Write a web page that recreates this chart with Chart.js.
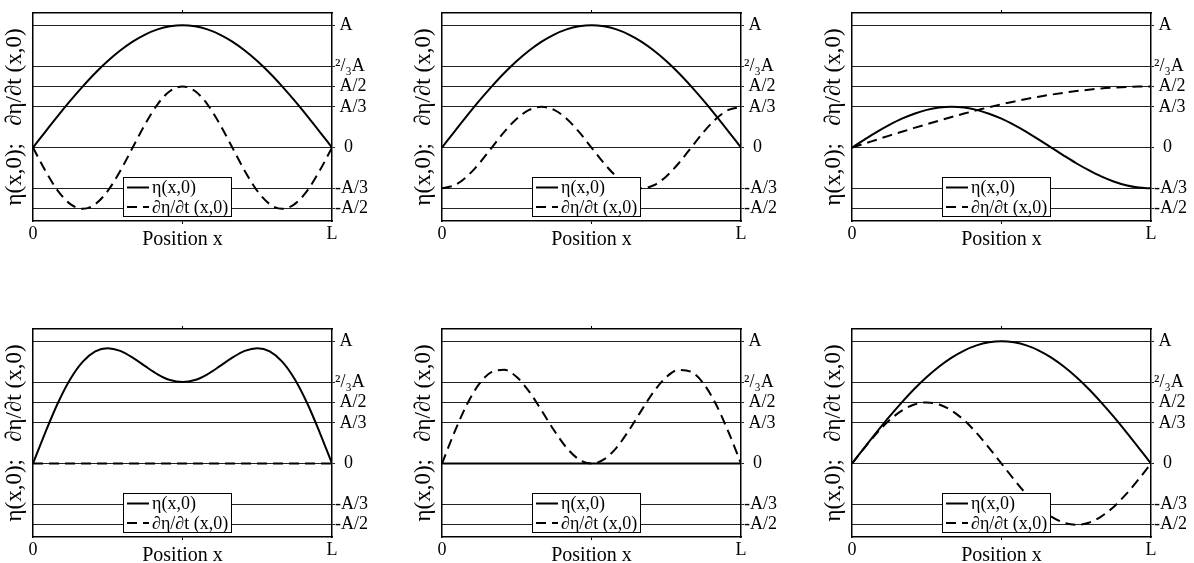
<!DOCTYPE html>
<html lang="en">
<head>
	<meta charset="UTF-8">
	<title>String initial conditions</title>
	<style>
		body {
			margin: 0;
			width: 1194px;
			height: 563px;
			position: relative;
			overflow: hidden;
			background-color: white;
		}

		canvas {
			position: absolute;
		}
	</style>
	<script src="https://cdn.jsdelivr.net/npm/chart.js"></script>
</head>
<body>
<canvas id="p1" width="373" height="242" style="left:1px;top:10px"></canvas>
<canvas id="p2" width="373" height="242" style="left:410px;top:10px"></canvas>
<canvas id="p3" width="373" height="242" style="left:820px;top:10px"></canvas>
<canvas id="p4" width="373" height="242" style="left:1px;top:326px"></canvas>
<canvas id="p5" width="373" height="242" style="left:410px;top:326px"></canvas>
<canvas id="p6" width="373" height="242" style="left:820px;top:326px"></canvas>
<script>
	// positions along the string, x/L
	const xPos = [0, 0.0417, 0.0833, 0.125, 0.1667, 0.2083, 0.25, 0.2917, 0.3333, 0.375, 0.4167, 0.4583,
		0.5, 0.5417, 0.5833, 0.625, 0.6667, 0.7083, 0.75, 0.7917, 0.8333, 0.875, 0.9167, 0.9583, 1];

	// values in units of A
	const eta1 = [0, 0.131, 0.259, 0.383, 0.5, 0.609, 0.707, 0.793, 0.866, 0.924, 0.966, 0.991, 1,
		0.991, 0.966, 0.924, 0.866, 0.793, 0.707, 0.609, 0.5, 0.383, 0.259, 0.131, 0];
	const dEta1 = [0, -0.191, -0.354, -0.462, -0.5, -0.462, -0.354, -0.191, 0, 0.191, 0.354, 0.462, 0.5,
		0.462, 0.354, 0.191, 0, -0.191, -0.354, -0.462, -0.5, -0.462, -0.354, -0.191, 0];

	const eta2 = [0, 0.131, 0.259, 0.383, 0.5, 0.609, 0.707, 0.793, 0.866, 0.924, 0.966, 0.991, 1,
		0.991, 0.966, 0.924, 0.866, 0.793, 0.707, 0.609, 0.5, 0.383, 0.259, 0.131, 0];
	const dEta2 = [-0.333, -0.308, -0.236, -0.128, 0, 0.128, 0.236, 0.308, 0.333, 0.308, 0.236, 0.128, 0,
		-0.128, -0.236, -0.308, -0.333, -0.308, -0.236, -0.128, 0, 0.128, 0.236, 0.308, 0.333];

	const eta3 = [0, 0.065, 0.128, 0.185, 0.236, 0.277, 0.308, 0.327, 0.333, 0.327, 0.308, 0.277, 0.236,
		0.185, 0.128, 0.065, 0, -0.065, -0.128, -0.185, -0.236, -0.277, -0.308, -0.327, -0.333];
	const dEta3 = [0, 0.033, 0.065, 0.098, 0.129, 0.161, 0.191, 0.221, 0.25, 0.278, 0.304, 0.33, 0.354,
		0.376, 0.397, 0.416, 0.433, 0.448, 0.462, 0.473, 0.483, 0.49, 0.496, 0.499, 0.5];

	const eta4 = [0, 0.258, 0.495, 0.691, 0.833, 0.917, 0.943, 0.921, 0.866, 0.796, 0.73, 0.683, 0.667,
		0.683, 0.73, 0.796, 0.866, 0.921, 0.943, 0.917, 0.833, 0.691, 0.495, 0.258, 0];
	const dEta4 = [0, 0, 0, 0, 0, 0, 0, 0, 0, 0, 0, 0, 0, 0, 0, 0, 0, 0, 0, 0, 0, 0, 0, 0, 0];

	const eta5 = [0, 0, 0, 0, 0, 0, 0, 0, 0, 0, 0, 0, 0, 0, 0, 0, 0, 0, 0, 0, 0, 0, 0, 0, 0];
	const dEta5 = [0, 0.257, 0.483, 0.653, 0.75, 0.766, 0.707, 0.588, 0.433, 0.271, 0.129, 0.034, 0,
		0.034, 0.129, 0.271, 0.433, 0.588, 0.707, 0.766, 0.75, 0.653, 0.483, 0.257, 0];

	const eta6 = [0, 0.131, 0.259, 0.383, 0.5, 0.609, 0.707, 0.793, 0.866, 0.924, 0.966, 0.991, 1,
		0.991, 0.966, 0.924, 0.866, 0.793, 0.707, 0.609, 0.5, 0.383, 0.259, 0.131, 0];
	const dEta6 = [0, 0.129, 0.25, 0.354, 0.433, 0.483, 0.5, 0.483, 0.433, 0.354, 0.25, 0.129, 0,
		-0.129, -0.25, -0.354, -0.433, -0.483, -0.5, -0.483, -0.433, -0.354, -0.25, -0.129, 0];

	// axis ticks
	const yTicks = [1, 0.6667, 0.5, 0.3333, 0, -0.3333, -0.5];
	const yTickLabels = [' A', '\u00B2/\u2083A', ' A/2', ' A/3', '  0', '-A/3', '-A/2'];
	const xTicks = [0, 0.5, 1];
	const xTickLabels = ['0', '', 'L'];

	const etaLabel = 'η(x,0)';
	const dEtaLabel = '∂η/∂t (x,0)';
	const yTitle = 'η(x,0);   ∂η/∂t (x,0)';
	const xTitle = 'Position x';

	const serif = '"Liberation Serif", "Times New Roman", serif';
	Chart.defaults.font.family = serif;
	Chart.defaults.color = '#000';

	// legend drawn as a framed box inside the plot, bottom centre
	const boxLegend = {
		id: 'boxLegend',
		afterDatasetsDraw(chart) {
			const ctx = chart.ctx;
			const a = chart.chartArea;
			const w = 109, h = 40;
			const left = Math.round((a.left + a.right) / 2 - 5 - w / 2);
			const top = Math.round(a.bottom - 4 - h);
			ctx.save();
			ctx.fillStyle = '#fff';
			ctx.fillRect(left, top, w, h);
			ctx.strokeStyle = '#000';
			ctx.lineWidth = 1;
			ctx.strokeRect(left + 0.5, top + 0.5, w - 1, h - 1);
			ctx.font = '18px ' + serif;
			ctx.textBaseline = 'middle';
			ctx.textAlign = 'left';
			chart.data.datasets.forEach((ds, i) => {
				const y = top + 10.5 + i * 19.5;
				ctx.beginPath();
				ctx.setLineDash(ds.borderDash || []);
				ctx.lineWidth = 2;
				ctx.moveTo(left + 4, y);
				ctx.lineTo(left + 26, y);
				ctx.stroke();
				ctx.setLineDash([]);
				ctx.fillStyle = '#000';
				ctx.fillText(ds.label, left + 29, y + 1);
			});
			ctx.restore();
		}
	};

	function toPoints(ys) {
		return xPos.map((x, i) => ({ x: x, y: ys[i] }));
	}

	function makePanel(id, eta, dEta) {
		return new Chart(document.getElementById(id), {
			type: 'line',
			data: {
				datasets: [{
					label: etaLabel,
					data: toPoints(eta),
					borderColor: '#000',
					borderWidth: 2,
					pointRadius: 0,
					cubicInterpolationMode: 'monotone',
					fill: false
				}, {
					label: dEtaLabel,
					data: toPoints(dEta),
					borderColor: '#000',
					borderWidth: 2,
					borderDash: [10, 6],
					pointRadius: 0,
					cubicInterpolationMode: 'monotone',
					fill: false
				}]
			},
			options: {
				responsive: false,
				animation: false,
				layout: { padding: 0, autoPadding: false },
				plugins: {
					legend: { display: false },
					tooltip: { enabled: false }
				},
				scales: {
					x: {
						type: 'linear',
						position: 'bottom',
						min: 0,
						max: 1,
						afterBuildTicks: s => { s.ticks = xTicks.map(v => ({ value: v })); },
						ticks: {
							callback: (v, i) => xTickLabels[i],
							font: { size: 18 },
							padding: -1,
							maxRotation: 0,
							autoSkip: false
						},
						grid: {
							drawOnChartArea: false,
							tickLength: 3,
							color: c => (c.tick && c.tick.value === 0.5) ? '#000' : 'rgba(0,0,0,0)'
						},
						border: { display: true, color: '#000', width: 1.5 },
						title: { display: true, text: xTitle, font: { size: 20 }, padding: 0 },
						afterFit: s => {
							s.height = 31;
							s.paddingLeft = 0;
							s.paddingRight = 0;
						}
					},
					xTop: {
						type: 'linear',
						position: 'top',
						min: 0,
						max: 1,
						afterBuildTicks: s => { s.ticks = [{ value: 0.5 }]; },
						ticks: { display: false },
						grid: { drawOnChartArea: false, tickLength: 3, color: '#000' },
						border: { display: true, color: '#000', width: 1.5 },
						afterFit: s => {
							s.height = 3;
							s.paddingLeft = 0;
							s.paddingRight = 0;
						}
					},
					yLeft: {
						type: 'linear',
						position: 'left',
						min: -0.6,
						max: 1.1,
						ticks: { display: false },
						grid: { display: false },
						border: { display: true, color: '#000', width: 1.5 },
						title: { display: true, text: yTitle, font: { size: 23 }, padding: 0 },
						afterFit: s => {
							s.width = 32;
							s.paddingTop = 0;
							s.paddingBottom = 0;
						}
					},
					y: {
						type: 'linear',
						position: 'right',
						min: -0.6,
						max: 1.1,
						afterBuildTicks: s => { s.ticks = yTicks.map(v => ({ value: v })); },
						ticks: {
							callback: (v, i) => yTickLabels[i],
							font: { size: 18 },
							padding: 0,
							autoSkip: false,
							crossAlign: 'near'
						},
						grid: { color: '#222', lineWidth: 1, tickLength: 3 },
						border: { display: true, color: '#000', width: 1.5 },
						afterFit: s => {
							s.width = 42;
							s.paddingTop = 0;
							s.paddingBottom = 0;
						}
					}
				}
			},
			plugins: [boxLegend]
		});
	}

	makePanel('p1', eta1, dEta1);
	makePanel('p2', eta2, dEta2);
	makePanel('p3', eta3, dEta3);
	makePanel('p4', eta4, dEta4);
	makePanel('p5', eta5, dEta5);
	makePanel('p6', eta6, dEta6);
</script>
</body>
</html>
